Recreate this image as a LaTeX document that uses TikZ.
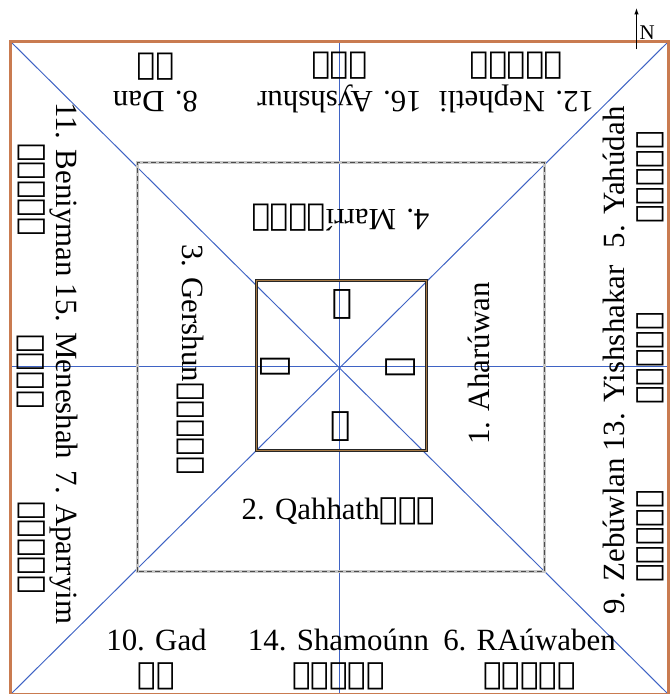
\documentclass[tikz,border=0pt]{standalone}
\usepackage{fontspec}
\setmainfont{Liberation Serif}
\newfontfamily\phoenfont{DejaVu Sans}
\usepackage{xcolor}
\usepackage{tikz}
\usetikzlibrary{arrows.meta,calc,positioning}
\TeXXeTstate=1
\definecolor{campbrown}{HTML}{C97B50}
\definecolor{campblue}{HTML}{3F63C4}
\definecolor{tentbrown}{HTML}{A57844}
\newcommand{\phn}[1]{{\phoenfont\beginR#1\endR}}

\begin{document}
\begin{tikzpicture}[x=1bp,y=1bp,>=Latex,
  tribe/.style={font=\fontsize{31}{34}\selectfont,align=center,inner sep=0pt},
  letter/.style={font=\phoenfont\fontsize{34}{34}\selectfont,inner sep=0pt},
  blueline/.style={campblue,line width=1bp}]
  \useasboundingbox (-339.5,-327.5) rectangle (330.5,366.5);
  % corners of the camp
  \coordinate (nw) at (-329,325); \coordinate (ne) at (329,325);
  \coordinate (sw) at (-329,-328); \coordinate (se) at (329,-328);
  \coordinate (n) at (0,325); \coordinate (s) at (0,-328);
  \coordinate (w) at (-329,0); \coordinate (e) at (329,0);
  \foreach \a/\b in {nw/se,sw/ne,n/s,w/e}{\draw[blueline] (\a) -- (\b);}
  \draw[campbrown,line width=2.5pt] (sw) rectangle (ne);
  % levites and tabernacle
  \draw[gray!45,line width=3pt] (-202,-205) rectangle (205,204);
  \draw[black!70,line width=0.8pt,dash pattern=on 5pt off 3pt] (-202,-205) rectangle (205,204);
  \draw[black!85,line width=3.6pt] (-83,-84) rectangle (87,86);
  \draw[tentbrown,line width=2pt] (-83,-84) rectangle (87,86);
  % tribes
  \node[tribe] (gad) at (-183,-293) {10. Gad\\\phn{𐤂𐤃}};
  \node[tribe] (shamoun) at (-1,-293) {14. Shamoúnn\\\phn{𐤔𐤌𐤏𐤅𐤍}};
  \node[tribe] (rauwaben) at (190,-293) {6. RAúwaben\\\phn{𐤓𐤀𐤅𐤁𐤍}};
  \node[tribe,rotate=180] (dan) at (-184,284) {8. Dan\\\phn{𐤃𐤍}};
  \node[tribe,rotate=180] (ayshshur) at (0,284) {16. Ayshshur\\\phn{𐤀𐤔𐤓}};
  \node[tribe,rotate=180] (nephetli) at (177,284) {12. Nephetli\\\phn{𐤍𐤐𐤕𐤋𐤉}};
  \node[tribe,rotate=-90] (beniyman) at (-292,177) {11. Beniyman\\\phn{𐤁𐤍𐤉𐤌𐤍}};
  \node[tribe,rotate=-90] (meneshah) at (-292,-5) {15. Meneshah\\\phn{𐤌𐤍𐤔𐤄}};
  \node[tribe,rotate=-90] (aparryim) at (-292,-181) {7. Aparryim\\\phn{𐤀𐤐𐤓𐤉𐤌}};
  \node[tribe,rotate=90] (yahudah) at (294,189) {5. Yahúdah\\\phn{𐤉𐤄𐤅𐤃𐤄}};
  \node[tribe,rotate=90] (yishshakar) at (294,8) {13. Yishshakar\\\phn{𐤉𐤔𐤔𐤊𐤓}};
  \node[tribe,rotate=90] (zebuwlan) at (294,-170) {9. Zebúwlan\\\phn{𐤆𐤁𐤅𐤋𐤍}};
  % levite clans
  \node[tribe,rotate=180] (marri) at (1,149) {4. Marrí\phn{𐤌𐤓𐤓𐤉}};
  \node[tribe] (qahhath) at (-1,-145) {2. Qahhath\phn{𐤒𐤄𐤕}};
  \node[tribe,rotate=-90] (gershun) at (-149,7) {3. Gershun\phn{𐤂𐤓𐤔𐤅𐤍}};
  \node[tribe,rotate=90] (aharuwan) at (139,3) {1. Aharúwan};
  % the name in the tabernacle
  \node[letter] (yod) at (61,-1) [rotate=90] {𐤉};
  \node[letter] (he1) at (1,-60) {𐤄};
  \node[letter] (waw) at (-64,0) [rotate=-90] {𐤅};
  \node[letter] (he2) at (3,62) [rotate=180] {𐤄};
  % north
  \coordinate (ntail) at (297,317); \coordinate (ntip) at (297,359);
  \draw[-{Latex[length=7pt,width=4.5pt]},line width=1.4pt] (ntail) -- (ntip);
  \node[font=\fontsize{21}{21}\selectfont,inner sep=0pt,anchor=west] (north) at (300,334) {N};
\end{tikzpicture}
\end{document}
